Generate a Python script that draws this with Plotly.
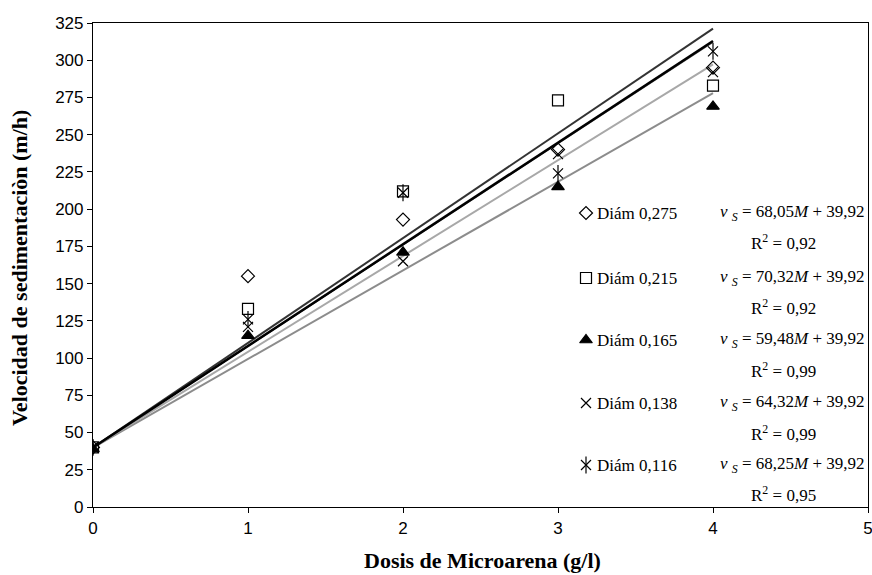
import plotly.graph_objects as go

# ---- data ----
dosis = [0, 1, 2, 3, 4]
diam_labels = ["Diám 0,275", "Diám 0,215", "Diám 0,165", "Diám 0,138", "Diám 0,116"]
v_0275 = [40, 155, 193, 240, 295]
v_0215 = [40, 133, 212, 273, 283]
v_0165 = [39, 115, 171, 215, 269]
v_0138 = [40, 121, 165, 237, 292]
v_0116 = [40, 126, 211, 224, 306]
slopes = [68.05, 70.32, 59.48, 64.32, 68.25]
intercept = 39.92
slope_txt = ["68,05", "70,32", "59,48", "64,32", "68,25"]
intercept_txt = "39,92"
r2_txt = ["0,92", "0,92", "0,99", "0,99", "0,95"]
series = [v_0275, v_0215, v_0165, v_0138, v_0116]

# ---- styles ----
W, H = 872, 575
L, R, T, B = 93, 868, 23, 507
serif = "Liberation Serif"
sans = "Liberation Sans"
symbols = ["diamond-open", "square-open", "triangle-up", "x-thin-open", "x-thin-open"]
sizes = [10, 11, 11, 10, 10]
line_colors = ["#555555", "#333333", "#8c8c8c", "#a8a8a8", "#000000"]
line_widths = [1.5, 2, 2, 2, 2.5]
draw_order = [0, 1, 2, 3, 4]

fig = go.Figure()

# trend lines
for i in draw_order:
    xs = [dosis[0], dosis[-1]]
    ys = [slopes[i] * x + intercept for x in xs]
    fig.add_trace(go.Scatter(x=xs, y=ys, mode="lines",
                             line=dict(color=line_colors[i], width=line_widths[i]),
                             showlegend=False, hoverinfo="skip"))

# data markers
for i, vals in enumerate(series):
    fig.add_trace(go.Scatter(x=dosis, y=vals, mode="markers",
                             marker=dict(symbol=symbols[i], size=sizes[i], color="black",
                                         line=dict(color="black", width=1.2)),
                             showlegend=False))
# vertical stroke of the asterisk marker for Diám 0,116
fig.add_trace(go.Scatter(x=dosis, y=v_0116, mode="markers",
                         marker=dict(symbol="line-ns-open", size=12, color="black",
                                     line=dict(color="black", width=1.2)),
                         showlegend=False))

# ---- legend (custom) ----
def px_x(p):
    return (p - L) / (R - L)

def px_y(p):
    return (B - p) / (B - T)

row_y = [213, 278, 340, 403, 465]
r2_y = [242, 307, 370, 433, 494]
mk_x = 586

for i in range(5):
    fig.add_trace(go.Scatter(x=[px_x(mk_x)], y=[px_y(row_y[i])], xaxis="x2", yaxis="y2",
                             mode="markers",
                             marker=dict(symbol=symbols[i], size=sizes[i], color="black",
                                         line=dict(color="black", width=1.2)),
                             showlegend=False, hoverinfo="skip"))
    if i == 4:
        fig.add_trace(go.Scatter(x=[px_x(mk_x)], y=[px_y(row_y[i])], xaxis="x2", yaxis="y2",
                                 mode="markers",
                                 marker=dict(symbol="line-ns-open", size=12, color="black",
                                             line=dict(color="black", width=1.2)),
                                 showlegend=False, hoverinfo="skip"))

annotations = []
for i in range(5):
    annotations.append(dict(x=px_x(595), y=px_y(row_y[i]), xref="paper", yref="paper",
                            text=diam_labels[i], showarrow=False, xanchor="left",
                            yanchor="middle", font=dict(family=serif, size=17, color="black")))
    annotations.append(dict(x=px_x(867), y=px_y(row_y[i]), xref="paper", yref="paper",
                            text=f"<i>v</i> <sub><i>S</i></sub> = {slope_txt[i]}<i>M</i> + {intercept_txt}",
                            showarrow=False, xanchor="right", yanchor="middle",
                            font=dict(family=serif, size=17, color="black")))
    annotations.append(dict(x=px_x(783), y=px_y(r2_y[i]), xref="paper", yref="paper",
                            text=f"R<sup>2</sup> = {r2_txt[i]}",
                            showarrow=False, xanchor="center", yanchor="middle",
                            font=dict(family=serif, size=17, color="black")))

# axis titles
annotations.append(dict(x=px_x(483), y=px_y(560), xref="paper", yref="paper",
                        text="<b>Dosis de Microarena (g/l)</b>", showarrow=False,
                        xanchor="center", yanchor="middle",
                        font=dict(family=serif, size=22, color="black")))
annotations.append(dict(x=px_x(19), y=px_y(268), xref="paper", yref="paper",
                        text="<b>Velocidad de sedimentaciòn (m/h)</b>", showarrow=False,
                        textangle=-90, xanchor="center", yanchor="middle",
                        font=dict(family=serif, size=22, color="black")))

fig.update_layout(
    width=W, height=H,
    margin=dict(l=L, r=W - R, t=T, b=H - B, autoexpand=False),
    paper_bgcolor="white", plot_bgcolor="white",
    showlegend=False,
    annotations=annotations,
    xaxis=dict(range=[0, 5], tickmode="linear", tick0=0, dtick=1,
               showgrid=False, zeroline=False, showline=True, linecolor="black",
               linewidth=1.2, mirror=True, ticks="outside", ticklen=5, tickcolor="black",
               ticklabeloverflow="allow", automargin=False,
               tickfont=dict(family=sans, size=17, color="black")),
    yaxis=dict(range=[0, 325], tickmode="linear", tick0=0, dtick=25,
               showgrid=False, zeroline=False, showline=True, linecolor="black",
               linewidth=1.2, mirror=True, ticks="outside", ticklen=5, tickcolor="black",
               automargin=False,
               tickfont=dict(family=sans, size=17, color="black")),
    xaxis2=dict(range=[0, 1], overlaying="x", visible=False, fixedrange=True),
    yaxis2=dict(range=[0, 1], overlaying="y", visible=False, fixedrange=True),
)

fig.write_html("out.html",
               config={"displayModeBar": False},
               post_script="document.body.style.margin='0';document.body.style.padding='0';"
                           "document.body.style.overflow='hidden';")
